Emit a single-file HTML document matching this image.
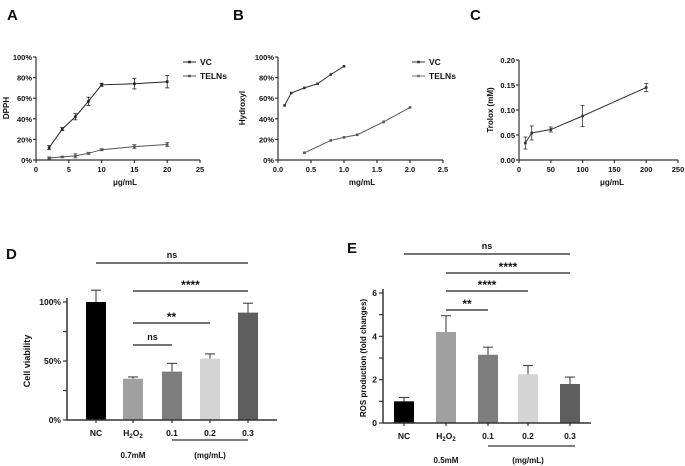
<!DOCTYPE html>
<html><head><meta charset="utf-8"><style>
body{margin:0;background:#fff}
svg{display:block;font-family:"Liberation Sans",Arial,sans-serif;font-weight:bold}
</style></head><body>
<svg id="s" width="685" height="466" viewBox="0 0 685 466"></svg>
<script>
const aX=[2,4,6,8,10,15,20];
const aVC=[12,30,42,57,73,74,76];
const aVCe=[2,1.5,3,4,1.5,5,6];
const aTE=[2,3,4,6.5,10,13,15];
const aTEe=[1,0.5,2,1,1,2,2];
const bVCx=[0.1,0.2,0.4,0.6,0.8,1.0];
const bVC=[53,65,70,74,83,91];
const bTEx=[0.4,0.8,1.0,1.2,1.6,2.0];
const bTE=[7,19,22,24.5,37,51];
const cX=[10,20,50,100,200];
const cY=[0.034,0.054,0.061,0.088,0.145];
const cE=[0.012,0.014,0.005,0.021,0.008];
const dCats=["NC","H2O2","0.1","0.2","0.3"];
const dVals=[100,35,41,52,91];
const dErr=[10,1.5,7,4,8];
const eVals=[1,4.2,3.15,2.25,1.8];
const eErr=[0.18,0.75,0.35,0.4,0.32];
const barColors=["#000","#a0a0a0","#7e7e7e","#d4d4d4","#5e5e5e"];
const pctTicks=["0%","20%","40%","60%","80%","100%"];

const S=document.getElementById('s');const NS="http://www.w3.org/2000/svg";
function el(t,a,txt){const e=document.createElementNS(NS,t);for(const k in a)e.setAttribute(k,a[k]);if(txt!=null)e.textContent=txt;S.appendChild(e);return e;}
function ln(x1,y1,x2,y2,c,w){return el('line',{x1,y1,x2,y2,stroke:c||'#333','stroke-width':w||1.2});}
function tx(x,y,t,sz,anc,rot){const a={x,y,'font-size':sz||8,'text-anchor':anc||'middle',fill:'#111'};if(rot)a.transform=`rotate(-90 ${x} ${y})`;return el('text',a,t);}

function lineChart(o){
 const sx=v=>o.x0+(v-o.xmin)/(o.xmax-o.xmin)*(o.x1-o.x0);
 const sy=v=>o.y0-(v-o.ymin)/(o.ymax-o.ymin)*(o.y0-o.y1);
 let e=ln(o.x0,o.y0,o.x1,o.y0);
 e=ln(o.x0,o.y0,o.x0,o.y1);
 o.yt.forEach((v,i)=>{ln(o.x0-3,sy(v),o.x0,sy(v));const t=tx(o.x0-4,sy(v)+3,o.ytl[i],7.5,'end');});
 o.xt.forEach((v,i)=>{ln(sx(v),o.y0,sx(v),o.y0+3);const t=tx(sx(v),o.y0+12,o.xtl[i],7.5);});
 o.series.forEach(s=>{
  const pts=s.x.map((v,i)=>sx(v)+','+sy(s.y[i])).join(' ');
  const p=el('polyline',{points:pts,fill:'none',stroke:s.c,'stroke-width':1});
  
  s.x.forEach((v,i)=>{
   if(s.e){const er=s.e[i];ln(sx(v),sy(s.y[i]-er),sx(v),sy(s.y[i]+er),s.c,0.8);ln(sx(v)-2,sy(s.y[i]-er),sx(v)+2,sy(s.y[i]-er),s.c,0.8);ln(sx(v)-2,sy(s.y[i]+er),sx(v)+2,sy(s.y[i]+er),s.c,0.8);}
   const r=el('rect',{x:sx(v)-1.3,y:sy(s.y[i])-1.3,width:2.6,height:2.6,fill:s.c});
   
  });
 });
}
function legend(x,y,n,c){ln(x,y,x+13,y,c,1);el('rect',{x:x+5.2,y:y-1.3,width:2.6,height:2.6,fill:c});const t=tx(x+17,y+3,n,8.5,'start');}

// A
tx(7,20,"A",15,'start');
lineChart({id:'a',x0:36,x1:200,y0:160,y1:57,xmin:0,xmax:25,ymin:0,ymax:100,xt:[0,5,10,15,20,25],xtl:["0","5","10","15","20","25"],yt:[0,20,40,60,80,100],ytl:pctTicks,
 series:[{n:'vc',x:aX,y:aVC,e:aVCe,c:'#222'},{n:'telns',x:aX,y:aTE,e:aTEe,c:'#555'}]});
tx(9,108,"DPPH",8,'middle',1);tx(125,185,"μg/mL",8);
legend(183,62,"VC",'#222');legend(183,76,"TELNs",'#555');
// B
tx(233,20,"B",15,'start');
lineChart({id:'b',x0:278,x1:443,y0:160,y1:57,xmin:0,xmax:2.5,ymin:0,ymax:100,xt:[0,0.5,1,1.5,2,2.5],xtl:["0.0","0.5","1.0","1.5","2.0","2.5"],yt:[0,20,40,60,80,100],ytl:pctTicks,
 series:[{n:'vc',x:bVCx,y:bVC,c:'#333'},{n:'telns',x:bTEx,y:bTE,c:'#555'}]});
tx(245,108,"Hydroxyl",8,'middle',1);tx(362,185,"mg/mL",8);
legend(412,62,"VC",'#333');legend(412,76,"TELNs",'#777');
// C
tx(470,20,"C",15,'start');
lineChart({id:'c',x0:519,x1:678,y0:160,y1:60,xmin:0,xmax:250,ymin:0,ymax:0.2,xt:[0,50,100,150,200,250],xtl:["0","50","100","150","200","250"],yt:[0,0.05,0.1,0.15,0.2],ytl:["0.00","0.05","0.10","0.15","0.20"],
 series:[{n:'trolox',x:cX,y:cY,e:cE,c:'#333'}]});
tx(493,110,"Trolox (mM)",8,'middle',1);tx(612,185,"μg/mL",8);

function barChart(o){
 const sy=v=>o.y0-v/o.ymax*(o.y0-o.y1);
 o.vals.forEach((v,i)=>{
  const cx=o.cx[i];
  const er=o.err[i];ln(cx,sy(v),cx,sy(v+er),'#333',1);ln(cx-5,sy(v+er),cx+5,sy(v+er),'#333',1);
  const r=el('rect',{x:cx-10,y:sy(v),width:20,height:o.y0-sy(v),fill:barColors[i]});
  
  ln(cx,o.y0,cx,o.y0+3);
 });
 ln(o.x0,o.y0,o.xe,o.y0,'#333',1.5);ln(o.x0,o.y0,o.x0,o.y1-4,'#333',1.5);
 o.yt.forEach((v,i)=>{ln(o.x0-4,sy(v),o.x0,sy(v),'#333',1.2);if(o.ytl[i])tx(o.x0-6,sy(v)+3,o.ytl[i],8.5,'end');});
 o.cx.forEach((cx,i)=>{if(i==1){const t=el('text',{x:cx,y:o.y0+16,'font-size':8.5,'text-anchor':'middle',fill:'#111'});t.innerHTML='H<tspan font-size="6" dy="2">2</tspan><tspan dy="-2">O</tspan><tspan font-size="6" dy="2">2</tspan>';}else tx(cx,o.y0+16,dCats[i],8.5);});
 o.br.forEach(b=>{ln(o.cx[b[0]],b[2],o.cx[b[1]],b[2],'#222',1.2);const t=tx((o.cx[b[0]]+o.cx[b[1]])/2,b[2]-(b[3]=='ns'?5:2),b[3],b[3]=='ns'?9:12);});
}
// D
tx(6,259,"D",15,'start');
barChart({id:'d',x0:67,xe:277,y0:420,y1:302,ymax:100,cx:[96,133,172,210,248],vals:dVals,err:dErr,yt:[0,25,50,75,100],ytl:["0%","","50%","","100%"],
 br:[[0,4,263,'ns'],[1,4,291,'****'],[1,3,323,'**'],[1,2,345,'ns']]});
tx(30,361,"Cell viability",9,'middle',1);
ln(172,440,248,440,'#333',1.2);tx(133,458,"0.7mM",8);tx(210,458,"(mg/mL)",8);
// E
tx(347,253,"E",15,'start');
barChart({id:'e',x0:383,xe:591,y0:423,y1:293,ymax:6,cx:[404,446,488,528,570],vals:eVals,err:eErr,yt:[0,1,2,3,4,5,6],ytl:["0","","2","","4","","6"],
 br:[[0,4,254,'ns'],[1,4,273,'****'],[1,3,291,'****'],[1,2,310,'**']]});
tx(366,358,"ROS production (fold changes)",8,'middle',1);
ln(488,446,575,446,'#333',1.2);tx(446,463,"0.5mM",8);tx(528,463,"(mg/mL)",8);
</script>
</body></html>
